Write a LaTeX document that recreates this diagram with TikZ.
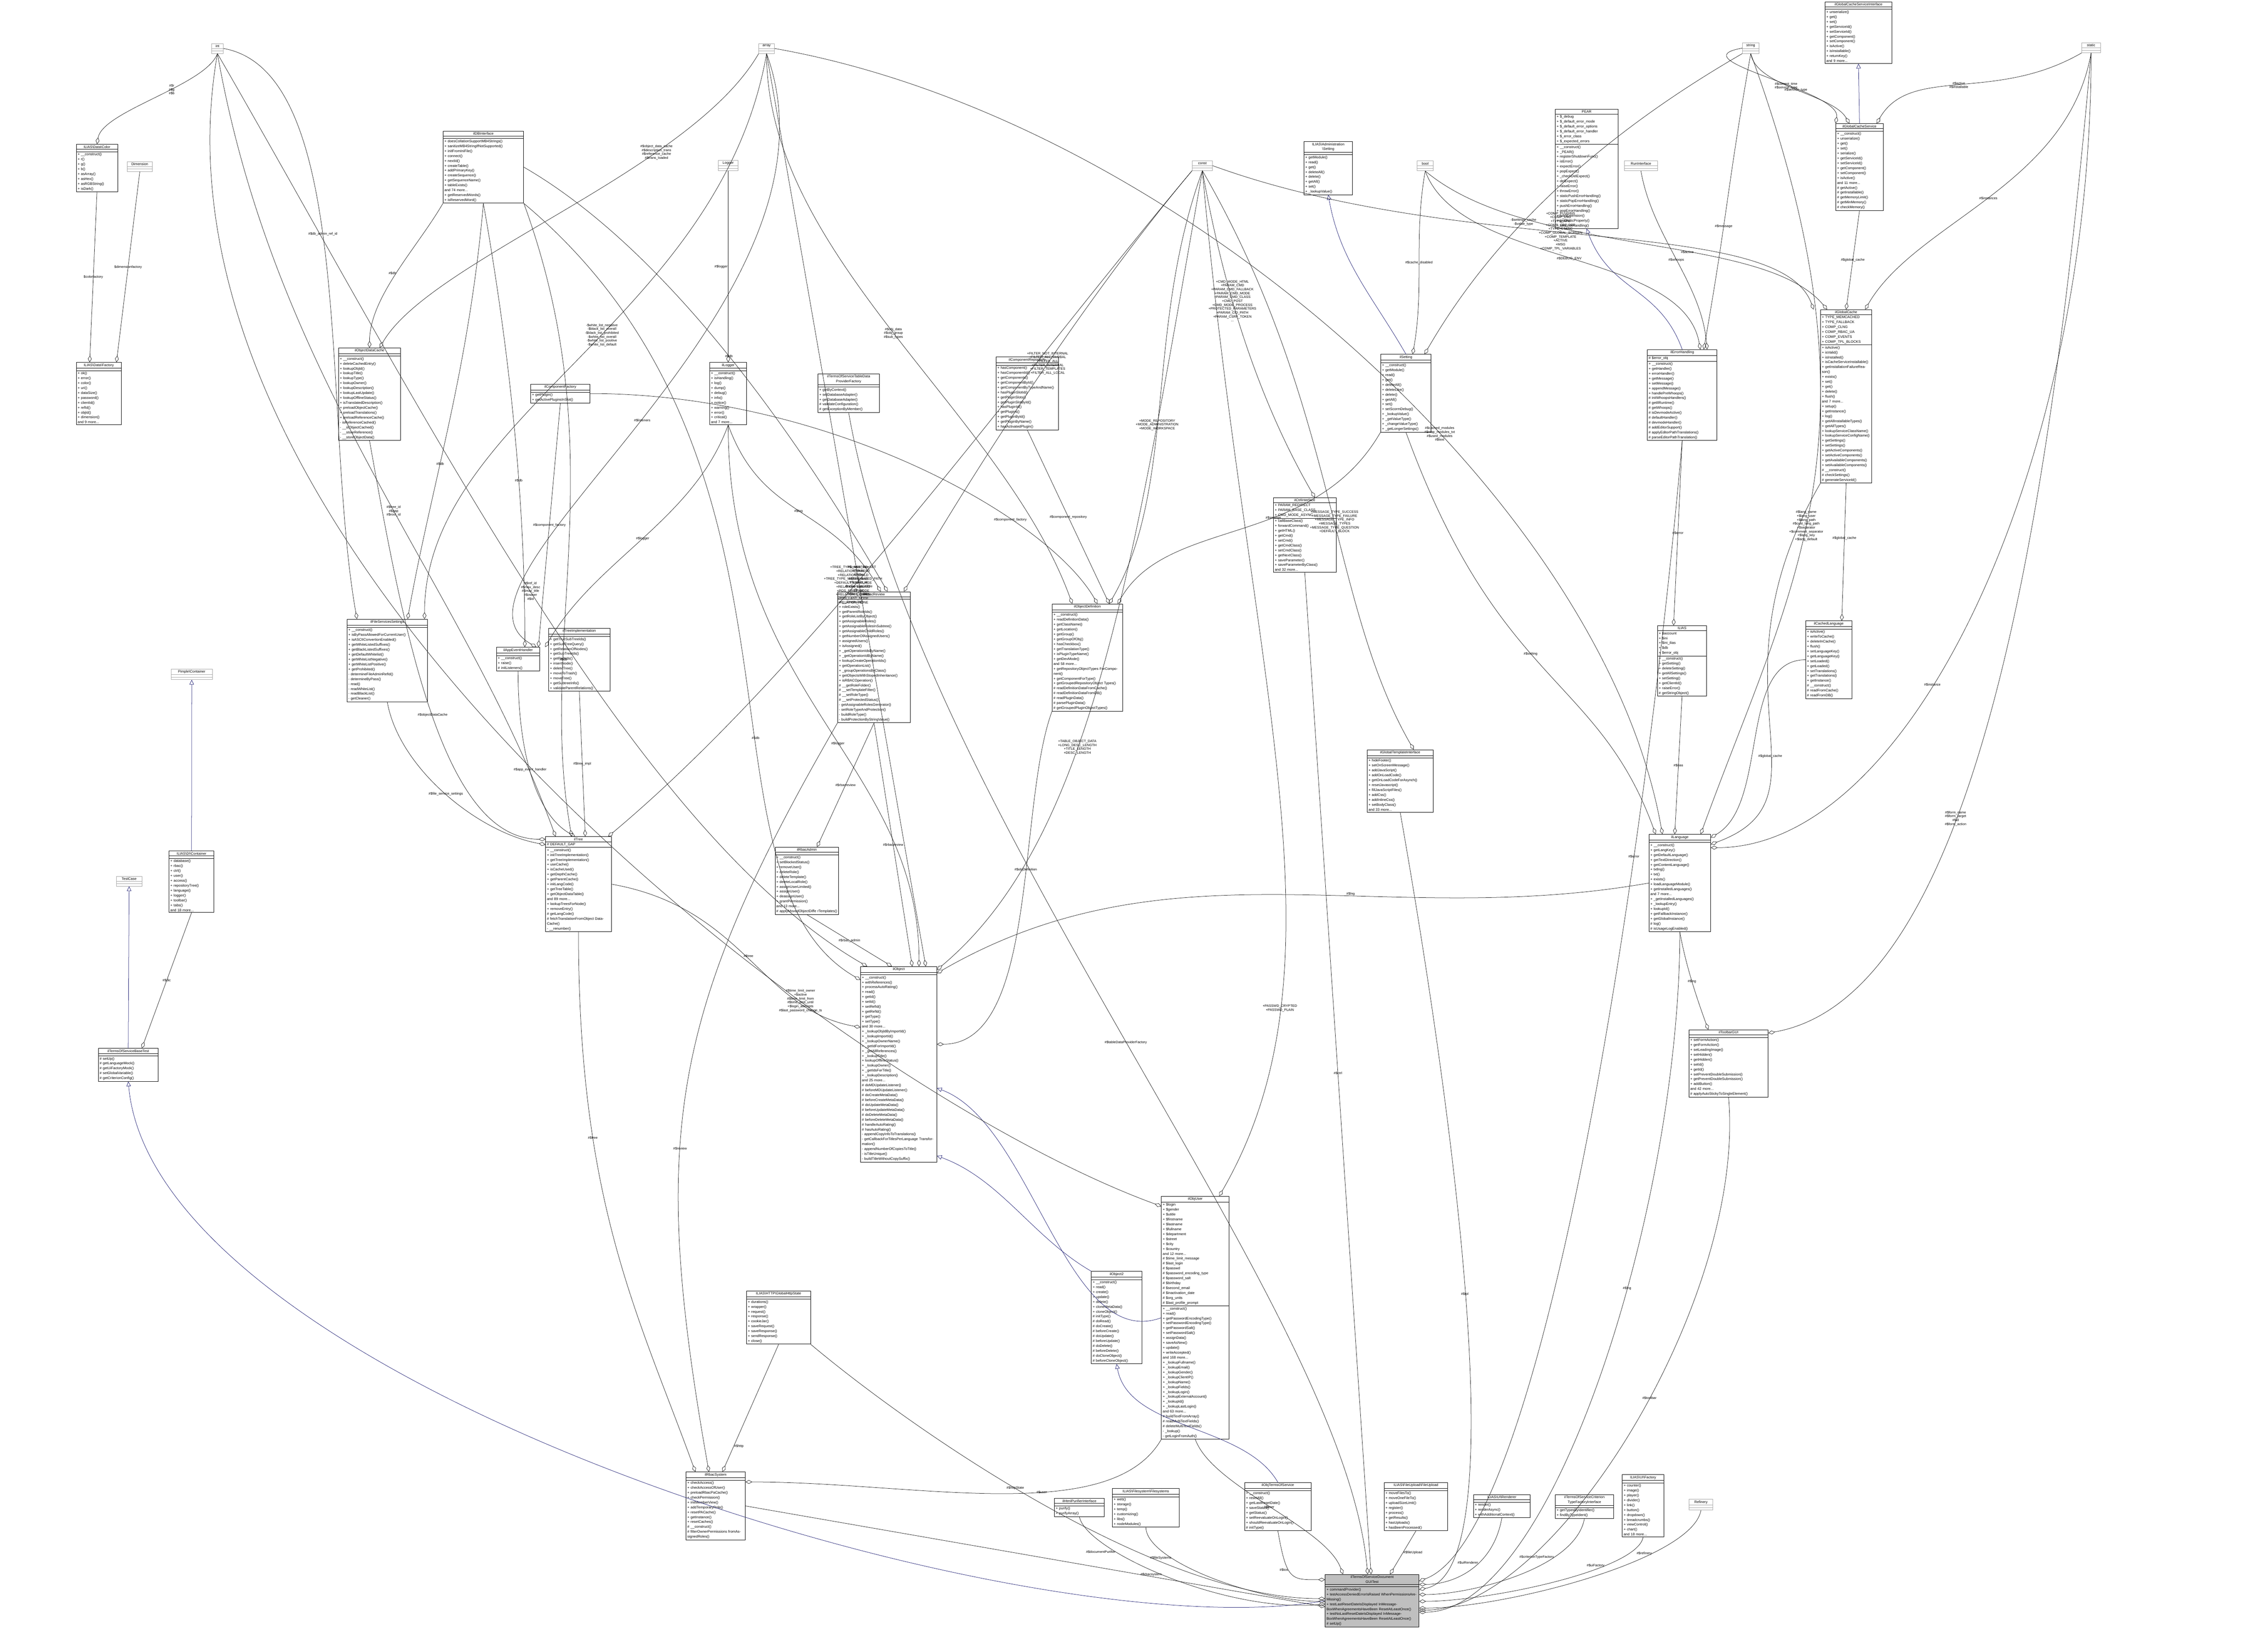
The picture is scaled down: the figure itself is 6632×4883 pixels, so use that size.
\documentclass[tikz,border=0pt]{standalone}
\usepackage{fontspec}
\setmainfont{Liberation Sans}
\usetikzlibrary{shapes.multipart,arrows.meta,calc}
\definecolor{midblue}{RGB}{25,25,112}
\tikzset{
 cls/.style={rectangle split,rectangle split parts=3,draw=black,line width=1.2pt,fill=white,
   font=\fontsize{10.5}{14.5}\selectfont,align=left,inner xsep=4pt,inner ysep=3pt},
 typ/.style={cls,draw=black!35},
 mainc/.style={cls,fill=black!25},
 agg/.style={draw=black!90,line width=1pt,-{Diamond[open,length=20pt,width=11pt]}},
 inh/.style={draw=midblue,line width=1pt,-{Triangle[open,length=14pt,width=13pt]}},
 lbl/.style={font=\fontsize{10}{11.5}\selectfont,align=center,inner sep=1pt}
}
\newcommand\cls[8][cls]{\node[#1,text width=#5pt,anchor=north west] (#2) at (#3,#4) {\centering #6\par\nodepart{two}#7\nodepart{three}#8};}
\newcommand\typ[5]{\node[typ,text width=#4pt,anchor=north west] (#1) at (#2,#3) {\centering #5\par\nodepart{two}\mbox{}\nodepart{three}\mbox{}};}
\begin{document}
\begin{tikzpicture}[x=1pt,y=-1pt]
\useasboundingbox (0,0) rectangle (6632,4883);
% ---- type boxes
\typ{int}{625}{128}{26}{int}
\typ{array}{2242}{128}{38}{array}
\typ{string}{5149}{126}{41}{string}
\typ{static}{6152}{126}{47}{static}
\typ{const}{3523}{475}{52}{const}
\typ{bool}{4188}{475}{39}{bool}
\typ{dimension}{375}{477}{67}{Dimension}
\typ{logger}{2122}{473}{51}{Logger}
\typ{runif}{4800}{475}{90}{RunInterface}
\typ{pimple}{505}{1977}{114}{Pimple\textbackslash Container}
\typ{testcase}{343}{2590}{68}{TestCase}
\typ{refinery}{4991}{4432}{63}{Refinery}
% ---- classes
\cls{color}{225}{426}{114}{ILIAS\textbackslash Data\textbackslash Color}{\mbox{}}{+ \_\_construct()\\+ r()\\+ g()\\+ b()\\+ asArray()\\+ asHex()\\+ asRGBString()\\+ isDark()}
\cls{datafactory}{225}{1071}{125}{ILIAS\textbackslash Data\textbackslash Factory}{\mbox{}}{+ ok()\\+ error()\\+ color()\\+ uri()\\+ dataSize()\\+ password()\\+ clientId()\\+ refId()\\+ objId()\\+ dimension()\\and 9 more...}
\cls{db}{1309}{387}{230}{ilDBInterface}{\mbox{}}{+ doesCollationSupportMB4Strings()\\+ sanitizeMB4StringIfNotSupported()\\+ initFromIniFile()\\+ connect()\\+ nextId()\\+ createTable()\\+ addPrimaryKey()\\+ createSequence()\\+ getSequenceName()\\+ tableExists()\\and 74 more...\\+ getReservedWords()\\+ isReservedWord()}
\cls{objcache}{1000}{1028}{175}{ilObjectDataCache}{\mbox{}}{+ \_\_construct()\\+ deleteCachedEntry()\\+ lookupObjId()\\+ lookupTitle()\\+ lookupType()\\+ lookupOwner()\\+ lookupDescription()\\+ lookupLastUpdate()\\+ lookupOfflineStatus()\\+ isTranslatedDescription()\\+ preloadObjectCache()\\+ preloadTranslations()\\+ preloadReferenceCache()\\- isReferenceCached()\\- \_\_isObjectCached()\\- \_\_storeReference()\\- \_\_storeObjectData()}
\cls{illogger}{2097}{1071}{101}{ilLogger}{\mbox{}}{+ \_\_construct()\\+ isHandling()\\+ log()\\+ dump()\\+ debug()\\+ info()\\+ notice()\\+ warning()\\+ error()\\+ critical()\\and 7 more...}
\cls{tabledp}{2417}{1105}{173}{ilTermsOfServiceTableData\\ProviderFactory}{\mbox{}}{+ getByContext()\\+ setDatabaseAdapter()\\+ getDatabaseAdapter()\\\# validateConfiguration()\\\# getExceptionByMember()}
\cls{comprepo}{2943}{1055}{177}{ilComponentRepository}{\mbox{}}{+ hasComponent()\\+ hasComponentId()\\+ getComponents()\\+ getComponentById()\\+ getComponentByTypeAndName()\\+ hasPluginSlotId()\\+ getPluginSlots()\\+ getPluginSlotById()\\+ hasPluginId()\\+ getPlugins()\\+ getPluginById()\\+ getPluginByName()\\+ hasActivatedPlugin()}
\cls{compfactory}{1568}{1135}{167}{ilComponentFactory}{\mbox{}}{+ getPlugin()\\+ getActivePluginsInSlot()}
\cls{fileservices}{1025}{1830}{230}{ilFileServicesSettings}{\mbox{}}{+ \_\_construct()\\+ isByPassAllowedForCurrentUser()\\+ isASCIIConvertionEnabled()\\+ getWhiteListedSuffixes()\\+ getBlackListedSuffixes()\\+ getDefaultWhitelist()\\+ getWhiteListNegative()\\+ getWhiteListPositive()\\+ getProhibited()\\- determineFileAdminRefId()\\- determineByPass()\\- read()\\- readWhiteList()\\- readBlackList()\\- getCleaner()}
\cls{appevent}{1467}{1913}{119}{ilAppEventHandler}{\mbox{}}{+ \_\_construct()\\+ raise()\\\# initListeners()}
\cls{treeimpl}{1621}{1857}{173}{ilTreeImplementation}{\mbox{}}{+ getTrueSubTreeIds()\\+ getSubTreeQuery()\\+ getRelationOfNodes()\\+ getSubTreeIds()\\+ getPathIds()\\+ insertNode()\\+ deleteTree()\\+ moveToTrash()\\+ moveTree()\\+ getSubtreeInfo()\\+ validateParentRelations()}
\cls{rbacreview}{2475}{1749}{207}{ilRbacReview}{\mbox{}}{+ \_\_construct()\\+ roleExists()\\+ getParentRoleIds()\\+ getRoleListByObject()\\+ getAssignableRoles()\\+ getAssignableRolesInSubtree()\\+ getAssignableChildRoles()\\+ getNumberOfAssignedUsers()\\+ assignedUsers()\\+ isAssigned()\\+ \_getOperationIdsByName()\\+ \_getOperationIdByName()\\+ lookupCreateOperationIds()\\+ getOperationList()\\+ \_groupOperationsByClass()\\+ getObjectsWithStopedInheritance()\\+ isRBACOperation()\\\# \_\_getRoleFolder()\\\# \_\_setTemplateFilter()\\\# \_\_setRoleType()\\\# \_\_setProtectedStatus()\\- getAssignableRolesGenerator()\\- setRoleTypeAndProtection()\\- buildRoleType()\\- buildProtectionByStringValue()}
\cls{objdef}{3109}{1785}{200}{ilObjectDefinition}{\mbox{}}{+ \_\_construct()\\+ readDefinitionData()\\+ getClassName()\\+ getLocation()\\+ getGroup()\\+ getGroupOfObj()\\+ hasCheckbox()\\+ getTranslationType()\\+ isPluginTypeName()\\+ getDevMode()\\and 58 more...\\+ getRepositoryObjectTypes ForComponent()\\+ getComponentForType()\\+ getGroupedRepositoryObject Types()\\\# readDefinitionDataFromCache()\\\# readDefinitionDataFromDB()\\\# readPluginData()\\\# parsePluginData()\\\# getGroupedPluginObjectTypes()}
\cls{tree}{1612}{2473}{186}{ilTree}{\# DEFAULT\_GAP}{+ \_\_construct()\\+ initTreeImplementation()\\+ getTreeImplementation()\\+ useCache()\\+ isCacheUsed()\\+ getDepthCache()\\+ getParentCache()\\+ initLangCode()\\+ getTreeTable()\\+ getObjectDataTable()\\and 89 more...\\+ lookupTreesForNode()\\+ removeEntry()\\\# getLangCode()\\\# fetchTranslationFromObject DataCache()\\- \_\_renumber()}
\cls{rbacadmin}{2290}{2504}{180}{ilRbacAdmin}{\mbox{}}{+ \_\_construct()\\+ setBlockedStatus()\\+ removeUser()\\+ deleteRole()\\+ deleteTemplate()\\+ deleteLocalRole()\\+ assignUserLimited()\\+ assignUser()\\+ deassignUser()\\+ grantPermission()\\and 13 more...\\\# applyMovedObjectDiffe rTemplates()}
\cls{object}{2543}{2857}{217}{ilObject}{\mbox{}}{+ \_\_construct()\\+ withReferences()\\+ processAutoRating()\\+ read()\\+ getId()\\+ setId()\\+ setRefId()\\+ getRefId()\\+ getType()\\+ setType()\\and 30 more...\\+ \_lookupObjIdByImportId()\\+ \_lookupImportId()\\+ \_lookupOwnerName()\\+ \_getIdForImportId()\\+ \_getAllReferences()\\+ \_lookupTitle()\\+ lookupOfflineStatus()\\+ \_lookupOwner()\\+ \_getIdsForTitle()\\+ \_lookupDescription()\\and 25 more...\\\# doMDUpdateListener()\\\# beforeMDUpdateListener()\\\# doCreateMetaData()\\\# beforeCreateMetaData()\\\# doUpdateMetaData()\\\# beforeUpdateMetaData()\\\# doDeleteMetaData()\\\# beforeDeleteMetaData()\\\# handleAutoRating()\\\# hasAutoRating()\\- appendCopyInfoToTranslations()\\- getCallbackForTitlesPerLanguage Transformation()\\- appendNumberOfCopiesToTitle()\\- isTitleUnique()\\- buildTitleWithoutCopySuffix()}
\cls{object2}{3225}{3758}{141}{ilObject2}{\mbox{}}{+ \_\_construct()\\+ read()\\+ create()\\+ update()\\+ delete()\\+ cloneMetaData()\\+ cloneObject()\\\# initType()\\\# doRead()\\\# doCreate()\\\# beforeCreate()\\\# doUpdate()\\\# beforeUpdate()\\\# doDelete()\\\# beforeDelete()\\\# doCloneObject()\\\# beforeCloneObject()}
\cls{dic}{499}{2515}{125}{ILIAS\textbackslash DI\textbackslash Container}{\mbox{}}{+ database()\\+ rbac()\\+ ctrl()\\+ user()\\+ access()\\+ repositoryTree()\\+ language()\\+ logger()\\+ toolbar()\\+ tabs()\\and 18 more...}
\cls{basetest}{290}{3099}{169}{ilTermsOfServiceBaseTest}{\mbox{}}{\# setUp()\\\# getLanguageMock()\\\# getUiFactoryMock()\\\# setGlobalVariable()\\\# getCriterionConfig()}
\cls{httpstate}{2206}{3816}{181}{ILIAS\textbackslash HTTP\textbackslash GlobalHttpState}{\mbox{}}{+ durations()\\+ wrapper()\\+ request()\\+ response()\\+ cookieJar()\\+ saveRequest()\\+ saveResponse()\\+ sendResponse()\\+ close()}
\cls{rbacsystem}{2027}{4351}{167}{ilRbacSystem}{\mbox{}}{+ checkAccess()\\+ checkAccessOfUser()\\+ preloadRbacPaCache()\\+ checkPermission()\\+ initMemberView()\\+ addTemporaryRole()\\+ resetPACache()\\+ getInstance()\\+ resetCaches()\\\# \_\_construct()\\\# filterOwnerPermissions fromAssignedRoles()}
\cls{purifier}{3116}{4429}{139}{ilHtmlPurifierInterface}{\mbox{}}{+ purify()\\+ purifyArray()}
\cls{filesystems}{3287}{4400}{190}{ILIAS\textbackslash Filesystem\textbackslash Filesystems}{\mbox{}}{+ web()\\+ storage()\\+ temp()\\+ customizing()\\+ libs()\\+ nodeModules()}
\cls{tos}{3678}{4382}{188}{ilObjTermsOfService}{\mbox{}}{+ \_\_construct()\\+ resetAll()\\+ getLastResetDate()\\+ saveStatus()\\+ getStatus()\\+ setReevaluateOnLogin()\\+ shouldReevaluateOnLogin()\\\# initType()}
\cls{objuser}{3432}{3536}{192}{ilObjUser}{+ \$login\\+ \$gender\\+ \$utitle\\+ \$firstname\\+ \$lastname\\+ \$fullname\\+ \$department\\+ \$street\\+ \$city\\+ \$country\\and 12 more...\\\# \$time\_limit\_message\\\# \$last\_login\\\# \$passwd\\\# \$password\_encoding\_type\\\# \$password\_salt\\\# \$birthday\\\# \$second\_email\\\# \$inactivation\_date\\\# \$org\_units\\\# \$last\_profile\_prompt}{+ \_\_construct()\\+ read()\\+ getPasswordEncodingType()\\+ setPasswordEncodingType()\\+ getPasswordSalt()\\+ setPasswordSalt()\\+ assignData()\\+ saveAsNew()\\+ update()\\+ writeAccepted()\\and 168 more...\\+ \_lookupFullname()\\+ \_lookupEmail()\\+ \_lookupGender()\\+ \_lookupClientIP()\\+ \_lookupName()\\+ \_lookupFields()\\+ \_lookupLogin()\\+ \_lookupExternalAccount()\\+ \_lookupId()\\+ \_lookupLastLogin()\\and 63 more...\\\# buildTextFromArray()\\\# readMultiTextFields()\\\# deleteMultiTextFields()\\- \_lookup()\\- getLoginFromAuth()}
\cls{fileupload}{4090}{4382}{180}{ILIAS\textbackslash FileUpload\textbackslash FileUpload}{\mbox{}}{+ moveFilesTo()\\+ moveOneFileTo()\\+ uploadSizeLimit()\\+ register()\\+ process()\\+ getResults()\\+ hasUploads()\\+ hasBeenProcessed()}
\cls{uirenderer}{4354}{4418}{160}{ILIAS\textbackslash UI\textbackslash Renderer}{\mbox{}}{+ render()\\+ renderAsync()\\+ withAdditionalContext()}
\cls{critfactory}{4596}{4418}{164}{ilTermsOfServiceCriterion\\TypeFactoryInterface}{\mbox{}}{+ getTypesByIdentifier()\\+ findByTypeIdent()}
\cls{uifactory}{4794}{4359}{115}{ILIAS\textbackslash UI\textbackslash Factory}{\mbox{}}{+ counter()\\+ image()\\+ player()\\+ divider()\\+ link()\\+ button()\\+ dropdown()\\+ breadcrumbs()\\+ viewControl()\\+ chart()\\and 18 more...}
\cls{toolbar}{4991}{3044}{226}{ilToolbarGUI}{\mbox{}}{+ setFormAction()\\+ getFormAction()\\+ setLeadingImage()\\+ setHidden()\\+ getHidden()\\+ setId()\\+ getId()\\+ setPreventDoubleSubmission()\\+ getPreventDoubleSubmission()\\+ addButton()\\and 42 more...\\\# applyAutoStickyToSingleElement()}
\cls{language}{4873}{2466}{174}{ilLanguage}{\mbox{}}{+ \_\_construct()\\+ getLangKey()\\+ getDefaultLanguage()\\+ getTextDirection()\\+ getContentLanguage()\\+ txtlng()\\+ txt()\\+ exists()\\+ loadLanguageModule()\\+ getInstalledLanguages()\\and 7 more...\\+ \_getInstalledLanguages()\\+ \_lookupEntry()\\+ lookupId()\\+ getFallbackInstance()\\+ getGlobalInstance()\\\# log()\\\# isUsageLogEnabled()}
\cls{tpl}{4040}{2216}{187}{ilGlobalTemplateInterface}{\mbox{}}{+ hideFooter()\\+ setOnScreenMessage()\\+ addJavaScript()\\+ addOnLoadCode()\\+ getOnLoadCodeForAsynch()\\+ resetJavascript()\\+ fillJavaScriptFiles()\\+ addCss()\\+ addInlineCss()\\+ setBodyClass()\\and 33 more...}
\cls{ilias}{4898}{1849}{137}{ILIAS}{+ \$account\\+ \$ini\\+ \$ini\_ilias\\+ \$db\\+ \$error\_obj}{+ \_\_construct()\\+ getSetting()\\+ deleteSetting()\\+ getAllSettings()\\+ setSetting()\\+ getClientId()\\+ raiseError()\\\# getStringObject()}
\cls{cachedlang}{5336}{1835}{128}{ilCachedLanguage}{\mbox{}}{+ isActive()\\+ writeToCache()\\+ deleteInCache()\\+ flush()\\+ setLanguageKey()\\+ getLanguageKey()\\+ setLoaded()\\+ getLoaded()\\+ setTranslations()\\+ getTranslations()\\+ getInstance()\\\# \_\_construct()\\\# readFromCache()\\\# readFromDB()}
\cls{ctrl}{3763}{1471}{177}{ilCtrlInterface}{+ PARAM\_REDIRECT\\+ PARAM\_BASE\_CLASS\\+ CMD\_MODE\_ASYNC}{+ callBaseClass()\\+ forwardCommand()\\+ getHTML()\\+ getCmd()\\+ setCmd()\\+ getCmdClass()\\+ setCmdClass()\\+ getNextClass()\\+ saveParameter()\\+ saveParameterByClass()\\and 32 more...}
\cls{errorhandling}{4868}{1033}{198}{ilErrorHandling}{\# \$error\_obj}{+ \_\_construct()\\+ getHandler()\\+ errorHandler()\\+ getMessage()\\+ setMessage()\\+ appendMessage()\\+ handlePreWhoops()\\\# initWhoopsHandlers()\\\# getIlRuntime()\\\# getWhoops()\\\# isDevmodeActive()\\\# defaultHandler()\\\# devmodeHandler()\\\# addEditorSupport()\\\# applyEditorPathTranslations()\\\# parseEditorPathTranslation()}
\cls{globalcache}{5380}{915}{143}{ilGlobalCache}{+ TYPE\_MEMCACHED\\+ TYPE\_FALLBACK\\+ COMP\_CLNG\\+ COMP\_RBAC\_UA\\+ COMP\_EVENTS\\+ COMP\_TPL\_BLOCKS}{+ isActive()\\+ isValid()\\+ isInstalled()\\+ isCacheServiceInstallable()\\+ getInstallationFailureReason()\\+ exists()\\+ set()\\+ get()\\+ delete()\\+ flush()\\and 7 more...\\+ setup()\\+ getInstance()\\+ log()\\+ getAllInstallableTypes()\\+ getAllTypes()\\+ lookupServiceClassName()\\+ lookupServiceConfigName()\\+ getSettings()\\+ setSettings()\\+ getActiveComponents()\\+ setActiveComponents()\\+ getAvailableComponents()\\+ setAvailableComponents()\\\# \_\_construct()\\\# checkSettings()\\\# generateServiceId()}
\cls{gcservice}{5425}{365}{132}{ilGlobalCacheService}{\mbox{}}{+ \_\_construct()\\+ unserialize()\\+ get()\\+ set()\\+ serialize()\\+ getServiceId()\\+ setServiceId()\\+ getComponent()\\+ setComponent()\\+ isActive()\\and 11 more...\\\# getActive()\\\# getInstallable()\\\# getMemoryLimit()\\\# getMinMemory()\\\# checkMemory()}
\cls{gcsinterface}{5393}{5}{190}{ilGlobalCacheServiceInterface}{\mbox{}}{+ unserialize()\\+ get()\\+ set()\\+ getServiceId()\\+ setServiceId()\\+ getComponent()\\+ setComponent()\\+ isActive()\\+ isInstallable()\\+ returnKey()\\and 9 more...}
\cls{pear}{4596}{322}{177}{PEAR}{+ \$\_debug\\+ \$\_default\_error\_mode\\+ \$\_default\_error\_options\\+ \$\_default\_error\_handler\\+ \$\_error\_class\\+ \$\_expected\_errors}{+ \_\_construct()\\+ \_PEAR()\\+ registerShutdownFunc()\\+ isError()\\+ expectError()\\+ popExpect()\\+ \_checkDelExpect()\\+ delExpect()\\+ raiseError()\\+ throwError()\\+ staticPushErrorHandling()\\+ staticPopErrorHandling()\\+ pushErrorHandling()\\+ popErrorHandling()\\+ loadExtension()\\+ getStaticProperty()\\+ setErrorHandling()}
\cls{admsetting}{3853}{418}{136}{ILIAS\textbackslash Administration\\\textbackslash Setting}{\mbox{}}{+ getModule()\\+ read()\\+ get()\\+ deleteAll()\\+ delete()\\+ getAll()\\+ set()\\+ \_lookupValue()}
\cls{setting}{4080}{1047}{141}{ilSetting}{\mbox{}}{+ \_\_construct()\\+ getModule()\\+ read()\\+ get()\\+ deleteAll()\\+ deleteLike()\\+ delete()\\+ getAll()\\+ set()\\+ setScormDebug()\\+ \_lookupValue()\\+ \_getValueType()\\+ \_changeValueType()\\+ \_getLongerSettings()}
\cls[mainc]{gui}{3916}{4654}{269}{ilTermsOfServiceDocument\\GUITest}{\mbox{}}{+ commandProvider()\\+ testAccessDeniedErrorIsRaised WhenPermissionsAreMissing()\\+ testLastResetDateIsDisplayed InMessageBoxWhenAgreementsHaveBeen ResetAtLeastOnce()\\+ testNoLastResetDateIsDisplayed InMessageBoxWhenAgreementsHaveBeen ResetAtLeastOnce()\\\# setUp()}
% ---- inheritance
\draw[inh] (gui.west) .. controls +(170:900) and +(85:900) .. (basetest.south);
\draw[inh] (basetest.north) -- (testcase.south);
\draw[inh] (dic.north) -- (pimple.south);
\draw[inh] (tos.north) .. controls +(-120:200) and +(80:200) .. (object2.south);
\draw[inh] (objuser.west) .. controls +(160:300) and +(20:300) .. ([yshift=-360pt]object.north east);
\draw[inh] (object2.north west) .. controls +(-150:200) and +(20:200) .. ([yshift=-560pt]object.north east);
\draw[inh] (setting.north) .. controls +(-120:200) and +(80:200) .. (admsetting.south);
\draw[inh] (errorhandling.north) .. controls +(-110:200) and +(70:200) .. (pear.south);
\draw[inh] (gcservice.north) -- (gcsinterface.south);
% ---- aggregations to the test class
\draw[agg] (tos.south) .. controls +(80:150) and +(180:100) .. node[lbl,pos=0.4,left]{\#\$tos} ([yshift=-16pt]gui.north west);
\draw[agg] (fileupload.south) -- node[lbl,pos=0.5,right]{\#\$fileUpload} ([xshift=192pt]gui.north west);
\draw[agg] (uirenderer.south) .. controls +(100:150) and +(0:100) .. node[lbl,pos=0.4,left]{\#\$uiRenderer} ([yshift=-30pt]gui.north east);
\draw[agg] (critfactory.south) .. controls +(100:150) and +(0:150) .. node[lbl,pos=0.3,left]{\#\$criterionTypeFactory} ([yshift=-60pt]gui.north east);
\draw[agg] (uifactory.south) .. controls +(100:100) and +(0:200) .. node[lbl,pos=0.3,left]{\#\$uiFactory} ([yshift=-80pt]gui.north east);
\draw[agg] (refinery.south) .. controls +(100:150) and +(0:250) .. node[lbl,pos=0.3,left]{\#\$refinery} ([yshift=-100pt]gui.north east);
\draw[agg] (toolbar.south) .. controls +(85:600) and +(0:400) .. node[lbl,pos=0.45]{\#\$toolbar} ([yshift=-106pt]gui.north east);
\draw[agg] (language.south) .. controls +(90:800) and +(0:400) .. node[lbl,pos=0.4]{\#\$lng} ([yshift=-112pt]gui.north east);
\draw[agg] (errorhandling.south) .. controls +(95:1200) and +(-20:400) .. node[lbl,pos=0.3]{\#\$error} ([yshift=-20pt]gui.north east);
\draw[agg] (tpl.south) .. controls +(80:800) and +(-10:300) .. node[lbl,pos=0.5]{\#\$tpl} ([yshift=-45pt]gui.north east);
\draw[agg] (ctrl.south) -- node[lbl,pos=0.5]{\#\$ctrl} ([xshift=136pt]gui.north west);
\draw[agg] (tabledp.south) .. controls +(80:1200) and +(-95:800) .. node[lbl,pos=0.5]{\#\$tableDataProviderFactory} ([xshift=126pt]gui.north west);
\draw[agg] (objuser.south) .. controls +(70:150) and +(-110:150) .. node[lbl,pos=0.5]{\#\$user} ([xshift=53pt]gui.north west);
\draw[agg] (httpstate.south east) .. controls +(40:400) and +(180:500) .. node[lbl,pos=0.45]{\#\$httpState} ([yshift=-72pt]gui.north west);
\draw[agg] (filesystems.south) .. controls +(90:100) and +(180:200) .. node[lbl,pos=0.3,left]{\#\$fileSystems} ([yshift=-80pt]gui.north west);
\draw[agg] (purifier.south) .. controls +(80:100) and +(175:300) .. node[lbl,pos=0.3,left]{\#\$documentPurifier} ([yshift=-88pt]gui.north west);
\draw[agg] (rbacsystem.east) -- node[lbl,pos=0.7,above]{\#\$rbacsystem} ([yshift=-96pt]gui.north west);
% ---- other aggregations
\draw[agg] (int.south) .. controls +(110:100) and +(-80:100) .. node[lbl,pos=0.4]{\#\$r\\\#\$g\\\#\$b} (color.north);
\draw[agg] (color.south) -- node[lbl,pos=0.5]{\$colorfactory} ([xshift=40pt]datafactory.north west);
\draw[agg] (dimension.south) -- node[lbl,pos=0.5]{\$dimensionfactory} ([xshift=-15pt]datafactory.north east);
\draw[agg] (db.south west) .. controls +(120:150) and +(-90:150) .. node[lbl,pos=0.5,left]{\#\$db} (objcache.north);
\draw[agg] (array.south west) .. controls +(120:400) and +(-60:300) .. node[lbl,pos=0.3]{\#\$object\_data\_cache\\\#\$description\_trans\\\#\$reference\_cache\\\#\$trans\_loaded} ([xshift=30pt]objcache.north);
\draw[agg] (logger.south) -- node[lbl,pos=0.5,left]{\#\$logger} (illogger.north);
\draw[agg] (db.south) .. controls +(95:500) and +(-80:400) .. node[lbl,pos=0.6]{\#\$db} ([xshift=60pt]fileservices.north);
\draw[agg] (db.south) .. controls +(80:500) and +(-90:400) .. node[lbl,pos=0.6]{\#\$db} ([xshift=20pt]appevent.north);
\draw[agg] (db.south east) .. controls +(70:800) and +(-100:600) .. node[lbl,pos=0.7]{\#\$db} ([xshift=-20pt]tree.north);
\draw[agg] (db.east) .. controls +(30:500) and +(-120:500) .. node[lbl,pos=0.5]{\#\$db} ([xshift=40pt]rbacreview.north);
\draw[agg] (db.south east) .. controls +(40:1200) and +(-150:600) .. node[lbl,pos=0.6]{\#\$db} ([yshift=-40pt]object.north west);
\draw[agg] (compfactory.south) -- node[lbl,pos=0.5]{\#\$component\_factory} ([xshift=60pt]appevent.north);
\draw[agg] (illogger.south) .. controls +(110:300) and +(-60:300) .. node[lbl,pos=0.5]{\#\$logger} ([xshift=80pt]appevent.north);
\draw[agg] (illogger.south) .. controls +(70:300) and +(-120:300) .. node[lbl,pos=0.5]{\#\$log} ([xshift=20pt]rbacreview.north);
\draw[agg] (illogger.south) .. controls +(90:800) and +(-90:600) .. node[lbl,pos=0.55]{\#\$logger} ([xshift=60pt]object.north);
\draw[agg] (appevent.south) .. controls +(90:200) and +(-150:150) .. node[lbl,pos=0.5]{\#\$app\_event\_handler} ([xshift=-10pt]tree.north);
\draw[agg] (treeimpl.south) -- node[lbl,pos=0.5]{\#\$tree\_impl} ([xshift=20pt]tree.north);
\draw[agg] (objcache.south) .. controls +(80:600) and +(180:300) .. node[lbl,pos=0.5]{\#\$objectDataCache} ([yshift=-8pt]tree.north west);
\draw[agg] (fileservices.south) .. controls +(80:200) and +(-170:200) .. node[lbl,pos=0.5]{\#\$file\_service\_settings} ([yshift=-24pt]tree.north west);
\draw[agg] (rbacreview.south) -- node[lbl,pos=0.5]{\#\$rbacreview} ([xshift=30pt]rbacadmin.north);
\draw[agg] (rbacreview.south) -- node[lbl,pos=0.5]{\#\$rbacreview} ([xshift=40pt]object.north);
\draw[agg] (rbacreview.south west) .. controls +(120:1000) and +(-100:1000) .. node[lbl,pos=0.6]{\#\$review} ([xshift=-20pt]rbacsystem.north);
\draw[agg] (rbacadmin.south) -- node[lbl,pos=0.5]{\#\$rbac\_admin} ([xshift=-20pt]object.north);
\draw[agg] (tree.east) .. controls +(10:400) and +(-170:300) .. node[lbl,pos=0.5,above]{\#\$tree} ([yshift=-180pt]object.north west);
\draw[agg] (tree.south) .. controls +(90:800) and +(-110:500) .. node[lbl,pos=0.3]{\#\$tree} ([xshift=-60pt]rbacsystem.north);
\draw[agg] (objdef.south west) .. controls +(110:300) and +(0:300) .. node[lbl,pos=0.4]{\#\$objDefinition} ([yshift=-230pt]object.north east);
\draw[agg] (comprepo.south) -- node[lbl,pos=0.5]{\#\$component\_repository} ([xshift=-40pt]objdef.north east);
\draw[agg] (compfactory.east) .. controls +(0:700) and +(-120:300) .. node[lbl,pos=0.7]{\#\$component\_factory} ([xshift=30pt]objdef.north);
\draw[agg] (setting.south west) .. controls +(120:400) and +(-60:300) .. node[lbl,pos=0.4]{\#\$settings} ([xshift=-15pt]objdef.north east);
\draw[agg] (setting.south) .. controls +(70:800) and +(-110:500) .. node[lbl,pos=0.45]{\#\$setting} ([xshift=20pt]language.north west);
\draw[agg] (errorhandling.south) -- node[lbl,pos=0.5]{\#\$error} ([xshift=-25pt]ilias.north);
\draw[agg] (ilias.south) -- node[lbl,pos=0.5]{\#\$ilias} ([xshift=-15pt]language.north);
\draw[agg] (globalcache.south) -- node[lbl,pos=0.4]{\#\$global\_cache} ([xshift=-30pt]cachedlang.north east);
\draw[agg] (gcservice.south) -- node[lbl,pos=0.5]{\#\$global\_cache} (globalcache.north);
\draw[agg] (cachedlang.west) .. controls +(180:200) and +(-30:200) .. ([yshift=-10pt]language.north east);
\draw[agg] (globalcache.south west) .. controls +(120:700) and +(-20:400) .. node[lbl,pos=0.6]{\#\$global\_cache} ([yshift=-30pt]language.north east);
\draw[agg] (language.south) .. controls +(80:100) and +(-110:100) .. node[lbl,pos=0.5]{\#\$lng} ([xshift=-60pt]toolbar.north);
\draw[agg] (language.west) .. controls +(170:800) and +(-30:800) .. node[lbl,pos=0.4,above]{\#\$lng} ([yshift=-20pt]object.north east);
\draw[agg] (httpstate.south) -- node[lbl,pos=0.8,right]{\#\$http} ([xshift=20pt]rbacsystem.north);
\draw[agg] (objuser.south west) .. controls +(120:300) and +(0:500) .. node[lbl,pos=0.4]{\#\$user} ([yshift=-30pt]rbacsystem.north east);
\draw[agg] (dic.south) -- node[lbl,pos=0.5]{\#\$dic} ([xshift=40pt]basetest.north);
\draw[agg] (string.south) .. controls +(80:100) and +(-120:100) .. node[lbl,pos=0.5]{\#\$service\_type} ([xshift=-30pt]gcservice.north);
\draw[agg] (string.south) .. controls +(100:400) and +(-80:400) .. node[lbl,pos=0.6]{\#\$message} ([xshift=-40pt]errorhandling.north east);
\draw[agg] (string.south west) .. controls +(150:500) and +(-60:400) .. node[lbl,pos=0.6]{-\$settings\_cache\\-\$value\_type} ([xshift=-20pt]setting.north east);
\draw[agg] (string.south) .. controls +(70:1200) and +(-70:800) .. node[lbl,pos=0.55]{\#\$lang\_name\\+\$lang\_user\\+\$lang\_path\\\#\$cust\_lang\_path\\+\$separator\\+\$comment\_separator\\+\$lang\_key\\+\$lang\_default} ([xshift=-30pt]language.north east);
\draw[agg] (static.south) .. controls +(100:400) and +(-60:300) .. node[lbl,pos=0.5]{\#\$instances} ([xshift=-20pt]globalcache.north east);
\draw[agg] (static.south west) .. controls +(150:300) and +(-60:200) .. node[lbl,pos=0.5]{\#\$active\\\#\$installable} ([xshift=-20pt]gcservice.north east);
\draw[agg] (static.south) .. controls +(90:1200) and +(0:600) .. node[lbl,pos=0.6]{\#\$instance} ([yshift=-40pt]language.north east);
\draw[agg] (static.south) .. controls +(95:1500) and +(-10:600) .. node[lbl,pos=0.6]{\#\$form\_name\\\#\$form\_target\\\#\$id\\\#\$form\_action} ([yshift=-10pt]toolbar.north east);
\draw[agg] (bool.south) .. controls +(100:200) and +(-80:200) .. node[lbl,pos=0.5]{\#\$cache\_disabled} ([xshift=20pt]setting.north);
\draw[agg] (bool.south) .. controls +(70:300) and +(-100:300) .. node[lbl,pos=0.5]{\#\$DEBUG\_ENV} ([xshift=-50pt]errorhandling.north east);
\draw[agg] (bool.south) .. controls +(40:400) and +(-130:300) .. node[lbl,pos=0.6]{\#\$active} ([xshift=20pt]globalcache.north west);
\draw[agg] (runif.south) .. controls +(80:200) and +(-95:200) .. node[lbl,pos=0.5]{\#\$whoops} ([xshift=-30pt]errorhandling.north east);
\draw[agg] (const.south) .. controls +(80:400) and +(-120:300) .. node[lbl,pos=0.35]{+CMD\_MODE\_HTML\\+PARAM\_CMD\\+PARAM\_CMD\_FALLBACK\\+PARAM\_CMD\_MODE\\+PARAM\_CMD\_CLASS\\+CMD\_POST\\+CMD\_MODE\_PROCESS\\+PROTECTED\_PARAMETERS\\+PARAM\_CID\_PATH\\+PARAM\_CSRF\_TOKEN\\...} ([xshift=30pt]ctrl.north);
\draw[agg] (const.south) .. controls +(60:800) and +(-120:500) .. node[lbl,pos=0.55]{+MESSAGE\_TYPE\_SUCCESS\\+MESSAGE\_TYPE\_FAILURE\\+MESSAGE\_TYPE\_INFO\\+MESSAGE\_TYPES\\+MESSAGE\_TYPE\_QUESTION\\+DEFAULT\_BLOCK} ([xshift=40pt]tpl.north);
\draw[agg] (const.south) .. controls +(110:500) and +(-60:400) .. node[lbl,pos=0.55]{+MODE\_REPOSITORY\\+MODE\_ADMINISTRATION\\+MODE\_WORKSPACE} ([xshift=-40pt]objdef.north east);
\draw[agg] (const.south west) .. controls +(130:500) and +(-60:400) .. node[lbl,pos=0.45]{+FILTER\_NOT\_INTERNAL\\+FILTER\_ALL\_GLOBAL\\+FILTER\_ALL\\+FILTER\_INTERNAL\\+FILTER\_TEMPLATES\\+FILTER\_ALL\_LOCAL} ([xshift=-20pt]rbacreview.north east);
\draw[agg] (const.south) .. controls +(100:1200) and +(-40:600) .. node[lbl,pos=0.6]{+TABLE\_OBJECT\_DATA\\+LONG\_DESC\_LENGTH\\+TITLE\_LENGTH\\+DESC\_LENGTH} ([yshift=-10pt]object.north east);
\draw[agg] (const.south) .. controls +(85:1500) and +(-60:800) .. node[lbl,pos=0.75]{+PASSWD\_CRYPTED\\+PASSWD\_PLAIN} ([xshift=-30pt]objuser.north east);
\draw[agg] (const.east) .. controls +(20:800) and +(-110:300) .. node[lbl,pos=0.45]{+COMP\_PLUGINS\\+COMP\_LNG\\+TYPE\_APC\\+COMP\_OBJ\_DEF\\+TYPE\_STATIC\\+COMP\_GLOBAL\_SCREEN\\+COMP\_TEMPLATE\\+ACTIVE\\+MSG\\+COMP\_TPL\_VARIABLES\\...} ([xshift=-20pt]globalcache.north west);
\draw[agg] (const.south west) .. controls +(130:800) and +(-40:800) .. node[lbl,pos=0.6]{+TREE\_TYPE\_NESTED\_SET\\+RELATION\_PARENT\\+RELATION\_CHILD\\+TREE\_TYPE\_MATERIALIZED\_PATH\\+DEFAULT\_LANGUAGE\\+RELATION\_SIBLING\\+POS\_FIRST\_NODE\\+RELATION\_EQUALS\\+POS\_LAST\_NODE\\+RELATION\_NONE\\...} ([xshift=-10pt]tree.north east);
\draw[agg] (int.south) .. controls +(80:1000) and +(-110:800) .. node[lbl,pos=0.55]{\#\$tree\_id\\\#\$gap\\\#\$root\_id} ([xshift=30pt]tree.north west);
\draw[agg] (int.south) .. controls +(60:1200) and +(-150:800) .. node[lbl,pos=0.5]{\#\$ref\_id\\\#\$max\_desc\\\#\$max\_title\\\#\$owner\\\#\$id} ([xshift=20pt]object.north west);
\draw[agg] (int.south) .. controls +(100:1500) and +(-160:1000) .. node[lbl,pos=0.7]{\#\$time\_limit\_owner\\+\$active\\\#\$time\_limit\_from\\\#\$time\_limit\_until\\+\$login\_attempts\\\#\$last\_password\_change\_ts} ([yshift=-30pt]objuser.north west);
\draw[agg] (int.east) .. controls +(10:400) and +(-100:600) .. node[lbl,pos=0.45]{\#\$db\_admin\_ref\_id} ([xshift=30pt]fileservices.north west);
\draw[agg] (array.south) .. controls +(90:600) and +(-110:600) .. node[lbl,pos=0.5]{\#\$obj\_data\\\#\$obj\_group\\\#\$sub\_types} ([xshift=60pt]objdef.north west);
\draw[agg] (array.south) .. controls +(100:800) and +(-90:600) .. node[lbl,pos=0.45]{-\$white\_list\_negative\\-\$black\_list\_overall\\-\$black\_list\_prohibited\\-\$white\_list\_overall\\-\$white\_list\_positive\\-\$white\_list\_default} ([xshift=110pt]fileservices.north);
\draw[agg] (array.south) .. controls +(80:1000) and +(-100:800) .. node[lbl,pos=0.55]{\#\$create\_date\\\#\$desc\\\#\$title\\\#\$long\_desc\\\#\$import\_id\\-\$untranslatedTitle\\\#\$type\\\#\$last\_update} ([xshift=80pt]object.north);
\draw[agg] (array.south) .. controls +(70:800) and +(-150:400) .. node[lbl,pos=0.5]{\#\$listeners} ([xshift=-10pt]appevent.north east);
\draw[agg] (array.east) .. controls +(10:1200) and +(-100:1000) .. node[lbl,pos=0.6]{\#\$cached\_modules\\\#\$map\_modules\_txt\\\#\$used\_modules\\\#\$text} ([xshift=40pt]language.north west);
\draw[agg] (string.west) .. controls +(-190:200) and +(-80:100) .. node[lbl,pos=0.6]{\#\$current\_time\\\#\$service\_type} (gcservice.north west);
\end{tikzpicture}
\end{document}
